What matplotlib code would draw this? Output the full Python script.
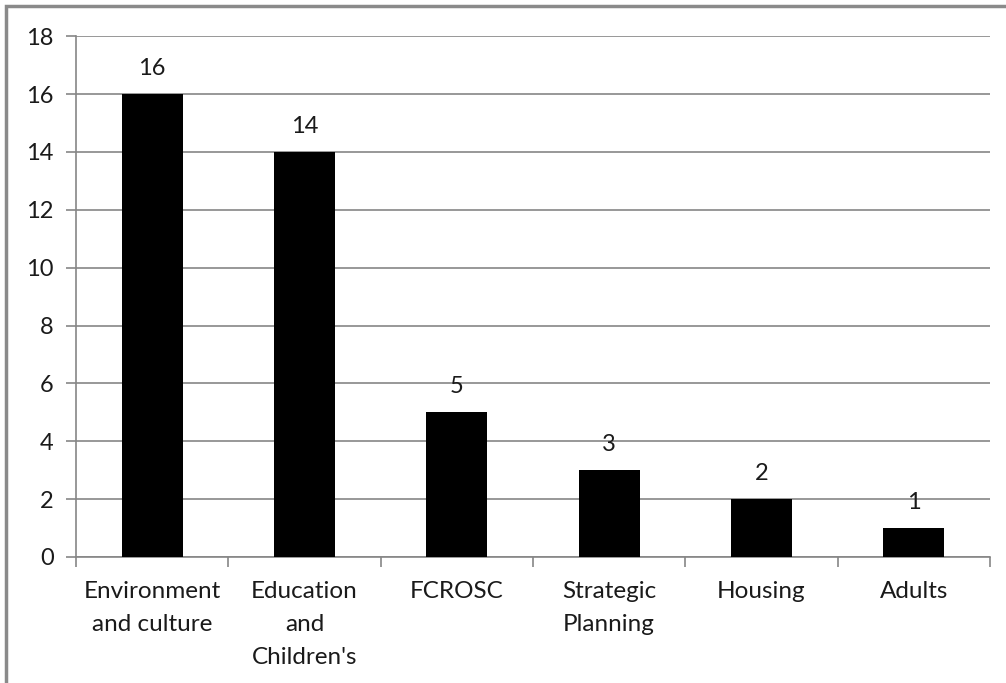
import matplotlib
matplotlib.use('Agg')
from matplotlib import pyplot as plt
from matplotlib.patches import Rectangle

# chart data
categories = ['Environment\nand culture', 'Education\nand\nChildren\'s', 'FCROSC',
              'Strategic\nPlanning', 'Housing', 'Adults']
counts = [16, 14, 5, 3, 2, 1]
y_ticks = [0, 2, 4, 6, 8, 10, 12, 14, 16, 18]

plt.rcParams['font.family'] = ['Lato', 'DejaVu Sans']
grey = '#868686'
txt = '#1a1a1a'

fig = plt.figure(figsize=(10.06, 6.83), dpi=100)
ax = fig.add_axes([0.0755, 0.1845, 0.9085, 0.7625])

x = list(range(len(categories)))
bars = ax.bar(x, counts, width=0.4, color='black', zorder=3)

# value labels above the bars
for xi, v in zip(x, counts):
    ax.annotate(str(v), (xi, v), xytext=(0, 11), textcoords='offset points',
                ha='center', va='bottom', fontsize=17, color=txt)

ax.set_xlim(-0.5, len(categories) - 0.5)
ax.set_ylim(0, 18)
ax.set_yticks(y_ticks)
ax.yaxis.grid(True, color=grey, linewidth=1.2, zorder=0)
ax.set_axisbelow(True)

# category labels centred, ticks on the boundaries
ax.set_xticks(x)
ax.set_xticklabels(categories, fontsize=17.5, linespacing=1.72, va='top', color=txt)
ax.tick_params(axis='x', which='major', length=0, pad=17)
ax.set_xticks([i - 0.5 for i in range(len(categories) + 1)], minor=True)
ax.tick_params(axis='x', which='minor', length=7, color=grey, width=1.2)
ax.tick_params(axis='y', length=7, color=grey, width=1.2, pad=9, labelsize=17,
               labelcolor=txt)

for side in ['top', 'right']:
    ax.spines[side].set_visible(False)
for side in ['left', 'bottom']:
    ax.spines[side].set_color(grey)
    ax.spines[side].set_linewidth(1.2)

# outer frame (only top and left edges visible in the crop)
fig.add_artist(Rectangle((6 / 1006, -0.05), 1.1, (683 - 6) / 683 + 0.05,
                         transform=fig.transFigure, fill=False,
                         edgecolor='#8a8a8a', linewidth=2.5))

fig.savefig('out.png', dpi=100)
